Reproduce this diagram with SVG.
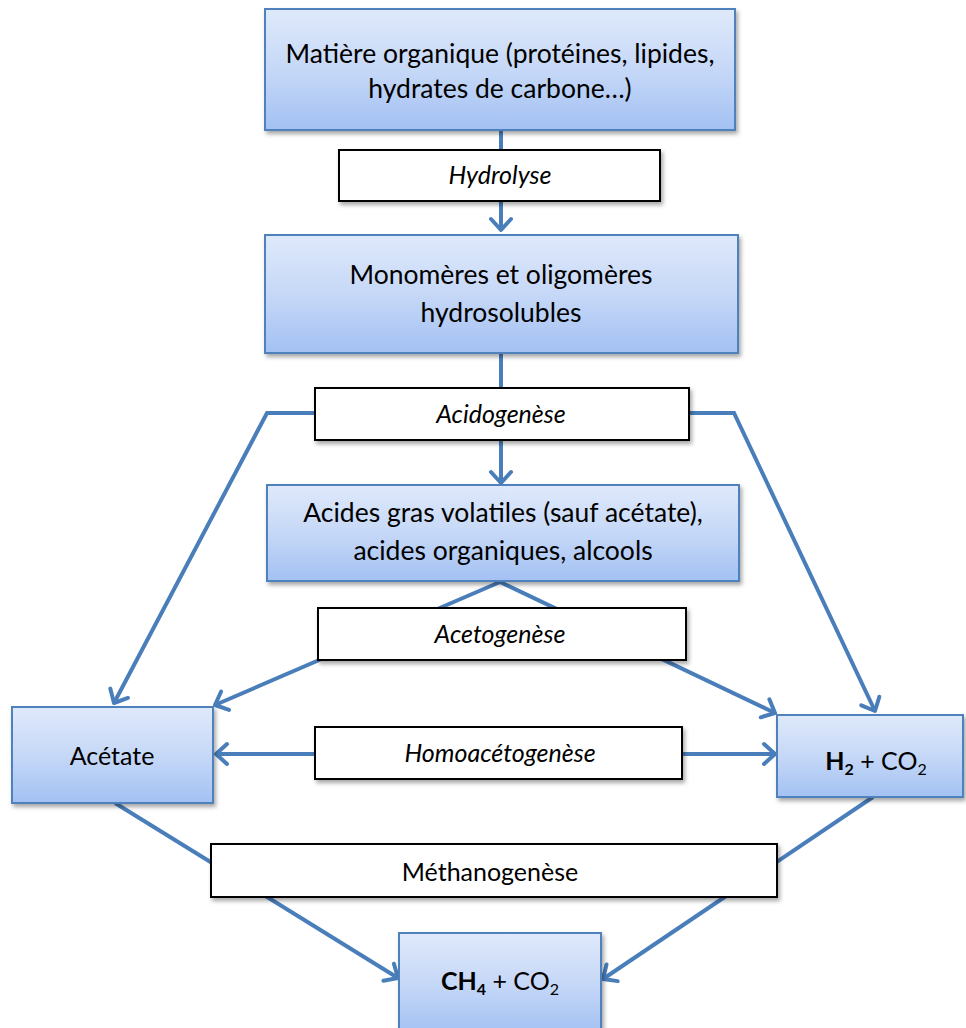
<svg xmlns="http://www.w3.org/2000/svg" width="966" height="1028" viewBox="0 0 966 1028">
<defs>
<linearGradient id="bg" x1="0" y1="0" x2="0" y2="1">
<stop offset="0" stop-color="#dfe9fb"/>
<stop offset="0.5" stop-color="#c6d8f7"/>
<stop offset="1" stop-color="#a3c1f3"/>
</linearGradient>
<filter id="sh" x="-10%" y="-10%" width="130%" height="140%">
<feDropShadow dx="2" dy="3" stdDeviation="2" flood-color="#000" flood-opacity="0.35"/>
</filter>
<marker id="ah" markerUnits="userSpaceOnUse" markerWidth="30" markerHeight="30" viewBox="-15 -15 30 30" refX="0" refY="0" orient="auto">
<path d="M-11,-10 L0,0 L-11,10" fill="none" stroke="#4a7ebb" stroke-width="4" stroke-linecap="round" stroke-linejoin="round"/>
</marker>
<style>
.blue{fill:url(#bg);stroke:#4f81bd;stroke-width:2;filter:url(#sh)}
.lbl{fill:#fff;stroke:#000;stroke-width:2;filter:url(#sh)}
.c{fill:none;stroke:#4a7ebb;stroke-width:4;stroke-linejoin:miter}
.a{marker-end:url(#ah)}
text{font-family:Lato,"Liberation Sans",sans-serif;fill:#000;text-anchor:middle}
.big{font-size:26.5px}
.it{font-size:25px;font-style:italic}
.sm{font-size:25px}
.mid{font-size:25px}
</style>
</defs>
<g id="connectors">
<path class="c a" d="M501,130 L501,230"/>
<path class="c a" d="M501,353 L501,483"/>
<path class="c a" d="M501,413 L267,413 L114,703"/>
<path class="c a" d="M501,413 L734,413 L875,711"/>
<path class="c a" d="M500,582 L215,705"/>
<path class="c a" d="M500,582 L775,713"/>
<path class="c a" d="M500,754 L216,754"/>
<path class="c a" d="M500,754 L775,754"/>
<path class="c a" d="M115,803 L398,978"/>
<path class="c a" d="M873,797 L603,979"/>
</g>
<g id="n-matiere">
<rect class="blue" x="265" y="9" width="470" height="121"/>
<text class="big" x="500" y="63">Matière organique (protéines, lipides,</text>
<text class="big" x="500" y="98">hydrates de carbone…)</text>
</g>
<g id="n-hydrolyse">
<rect class="lbl" x="339" y="150" width="321" height="51"/>
<text class="it" x="500" y="184">Hydrolyse</text>
</g>
<g id="n-monomeres">
<rect class="blue" x="265" y="235" width="473" height="118"/>
<text class="big" x="501" y="284">Monomères et oligomères</text>
<text class="big" x="501" y="322">hydrosolubles</text>
</g>
<g id="n-acidogenese">
<rect class="lbl" x="315" y="388" width="374" height="52"/>
<text class="it" x="501" y="423">Acidogenèse</text>
</g>
<g id="n-acides">
<rect class="blue" x="267" y="485" width="472" height="96"/>
<text class="big" x="503" y="522">Acides gras volatiles (sauf acétate),</text>
<text class="big" x="503" y="560">acides organiques, alcools</text>
</g>
<g id="n-acetogenese">
<rect class="lbl" x="318" y="608" width="368" height="52"/>
<text class="it" x="500" y="643">Acetogenèse</text>
</g>
<g id="n-acetate">
<rect class="blue" x="12" y="707" width="201" height="96"/>
<text class="mid" x="112" y="765">Acétate</text>
</g>
<g id="n-homo">
<rect class="lbl" x="315" y="727" width="367" height="52"/>
<text class="it" x="500" y="762">Homoacétogenèse</text>
</g>
<g id="n-h2">
<rect class="blue" x="777" y="715" width="186" height="82"/>
<text class="mid" x="876" y="770"><tspan font-weight="bold">H<tspan font-size="16" dy="5">2</tspan></tspan><tspan dy="-5"> + CO</tspan><tspan font-size="16" dy="5">2</tspan></text>
</g>
<g id="n-methano">
<rect class="lbl" x="211" y="844" width="566" height="53"/>
<text class="sm" x="490" y="881">Méthanogenèse</text>
</g>
<g id="n-ch4">
<rect class="blue" x="399" y="933" width="202" height="100"/>
<text class="mid" x="500" y="990"><tspan font-weight="bold">CH<tspan font-size="16" dy="5">4</tspan></tspan><tspan dy="-5"> + CO</tspan><tspan font-size="16" dy="5">2</tspan></text>
</g>
</svg>
